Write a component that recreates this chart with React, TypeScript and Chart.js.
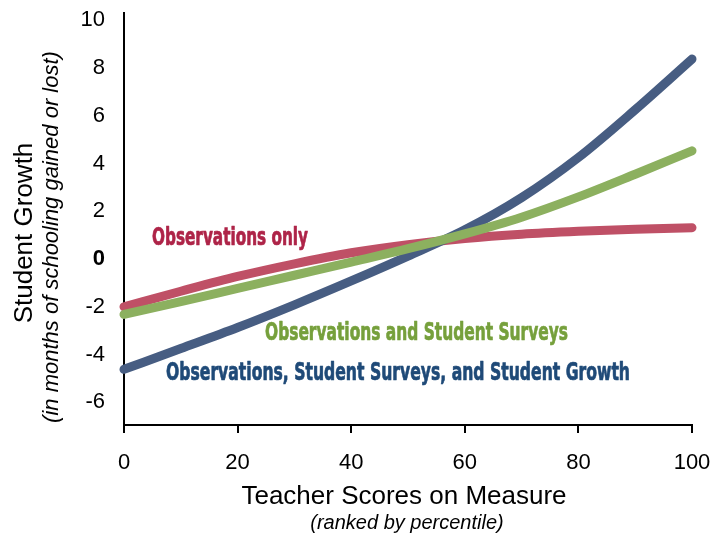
import React, { useEffect, useRef } from "react";
import { Chart, registerables } from "chart.js";

Chart.register(...registerables);

const percentiles = [0, 10, 20, 30, 40, 50, 60, 70, 80, 90, 100];
const observationsOnly = [-2.0, -1.35, -0.73, -0.2, 0.26, 0.6, 0.86, 1.04, 1.16, 1.25, 1.31];
const observationsSurveys = [-2.32, -1.78, -1.23, -0.68, -0.13, 0.43, 1.05, 1.75, 2.6, 3.55, 4.53];
const observationsSurveysGrowth = [-4.62, -3.75, -2.87, -1.92, -0.92, 0.12, 1.22, 2.57, 4.25, 6.25, 8.37];
const yTickValues = [-6, -4, -2, 0, 2, 4, 6, 8, 10];
const xTickValues = [0, 20, 40, 60, 80, 100];

const seriesLabels = [
  "Observations only",
  "Observations and Student Surveys",
  "Observations, Student Surveys, and Student Growth",
];

const yTitle = "Student Growth";
const ySubtitle = "(in months of schooling gained or lost)";
const xTitle = "Teacher Scores on Measure";
const xSubtitle = "(ranked by percentile)";

const RED_LINE = "#BF5066";
const GREEN_LINE = "#8CB05F";
const BLUE_LINE = "#475D82";
const RED_TEXT = "#AE2448";
const GREEN_TEXT = "#76A03C";
const BLUE_TEXT = "#1F4A78";

const FONT = "'Liberation Sans', Arial, sans-serif";
const NARROW = "'Liberation Sans Narrow', 'DejaVu Sans Condensed', 'Liberation Sans', sans-serif";

function fitText(ctx: CanvasRenderingContext2D, text: string, left: number, right: number, baseline: number, font: string, color: string) {
  ctx.save();
  ctx.font = font;
  ctx.fillStyle = color;
  ctx.strokeStyle = color;
  ctx.lineWidth = 0.7;
  ctx.lineJoin = "round";
  ctx.textAlign = "left";
  ctx.textBaseline = "alphabetic";
  const w = ctx.measureText(text).width;
  const sx = (right - left) / w;
  ctx.translate(left, baseline);
  ctx.scale(sx, 1);
  ctx.fillText(text, 0, 0);
  ctx.strokeText(text, 0, 0);
  ctx.restore();
}

const textPlugin = {
  id: "textPlugin",
  afterDraw(chart: any) {
    const ctx: CanvasRenderingContext2D = chart.ctx;
    fitText(ctx, seriesLabels[0], 152, 308, 245, `bold 24px ${NARROW}`, RED_TEXT);
    fitText(ctx, seriesLabels[1], 265, 568, 340, `bold 24px ${NARROW}`, GREEN_TEXT);
    fitText(ctx, seriesLabels[2], 166, 630, 380, `bold 24px ${NARROW}`, BLUE_TEXT);

    ctx.save();
    ctx.fillStyle = "#000";
    ctx.textAlign = "center";
    ctx.textBaseline = "alphabetic";
    ctx.font = `26px ${FONT}`;
    ctx.fillText(xTitle, 404, 504);
    ctx.font = `italic 20px ${FONT}`;
    ctx.fillText(xSubtitle, 407, 529);
    ctx.restore();

    ctx.save();
    ctx.fillStyle = "#000";
    ctx.textAlign = "center";
    ctx.textBaseline = "alphabetic";
    ctx.translate(32, 233);
    ctx.rotate(-Math.PI / 2);
    ctx.font = `26px ${FONT}`;
    ctx.fillText(yTitle, 0, 0);
    ctx.restore();

    ctx.save();
    ctx.fillStyle = "#000";
    ctx.textAlign = "center";
    ctx.textBaseline = "alphabetic";
    ctx.translate(58, 237);
    ctx.rotate(-Math.PI / 2);
    ctx.font = `italic 22px ${FONT}`;
    ctx.fillText(ySubtitle, 0, 0);
    ctx.restore();
  },
};

export default function App() {
  const canvasRef = useRef<HTMLCanvasElement | null>(null);

  useEffect(() => {
    document.body.style.margin = "0";
    const canvas = canvasRef.current;
    if (!canvas) return;
    const mk = (vals: number[]) => percentiles.map((x, i) => ({ x, y: vals[i] }));
    const common = {
      borderWidth: 9,
      pointRadius: 0,
      pointHoverRadius: 0,
      cubicInterpolationMode: "monotone" as const,
      borderCapStyle: "round" as const,
      borderJoinStyle: "round" as const,
      fill: false,
      clip: false as any,
    };
    const chart = new Chart(canvas, {
      type: "line",
      data: {
        datasets: [
          { ...common, label: seriesLabels[1], data: mk(observationsSurveys), borderColor: GREEN_LINE, order: 0 },
          { ...common, label: seriesLabels[2], data: mk(observationsSurveysGrowth), borderColor: BLUE_LINE, order: 1 },
          { ...common, label: seriesLabels[0], data: mk(observationsOnly), borderColor: RED_LINE, order: 2 },
        ],
      },
      options: {
        animation: false,
        responsive: false,
        maintainAspectRatio: false,
        layout: { padding: { left: 0, right: 24, top: 13, bottom: 0 } },
        plugins: {
          legend: { display: false },
          tooltip: { enabled: false },
          title: { display: false },
        },
        scales: {
          x: {
            type: "linear",
            min: 0,
            max: 100,
            afterFit: (s: any) => {
              s.height = 112;
              s.paddingLeft = 0;
              s.paddingRight = 0;
            },
            afterBuildTicks: (s: any) => {
              s.ticks = xTickValues.map((v) => ({ value: v }));
            },
            grid: {
              display: true,
              drawOnChartArea: false,
              drawTicks: true,
              tickLength: 8,
              color: "#000",
              lineWidth: 2,
            },
            border: { display: true, color: "#000", width: 2 },
            ticks: {
              padding: 17,
              color: "#000",
              font: { family: FONT, size: 22 },
              maxRotation: 0,
            },
          },
          y: {
            type: "linear",
            min: -6.95,
            max: 10.3,
            afterFit: (s: any) => {
              s.width = 124;
              s.paddingTop = 0;
              s.paddingBottom = 0;
            },
            afterBuildTicks: (s: any) => {
              s.ticks = yTickValues.map((v) => ({ value: v }));
            },
            grid: { display: false, drawTicks: false },
            border: { display: true, color: "#000", width: 2 },
            ticks: {
              padding: 19,
              color: "#000",
              font: (c: any) =>
                c.tick && c.tick.value === 0
                  ? { family: FONT, size: 22, weight: "bold" }
                  : { family: FONT, size: 22 },
            },
          },
        },
      },
      plugins: [textPlugin],
    });
    return () => chart.destroy();
  }, []);

  return <canvas ref={canvasRef} width={716} height={537} style={{ display: "block", width: 716, height: 537 }} />;
}
